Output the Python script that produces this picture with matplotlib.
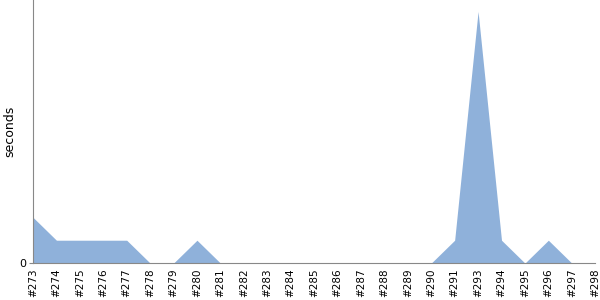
import matplotlib
matplotlib.use("Agg")
import matplotlib.pyplot as plt

builds = ["#273", "#274", "#275", "#276", "#277", "#278", "#279", "#280", "#281",
          "#282", "#283", "#284", "#285", "#286", "#287", "#288", "#289", "#290",
          "#291", "#293", "#294", "#295", "#296", "#297", "#298"]
seconds = [2, 1, 1, 1, 1, 0, 0, 1, 0,
           0, 0, 0, 0, 0, 0, 0, 0, 0,
           1, 11, 1, 0, 1, 0, 0]

fig = plt.figure(figsize=(6, 3), dpi=100)
ax = fig.add_axes([0.055, 0.123, 0.937, 0.877])
x = list(range(len(builds)))
ax.fill_between(x, seconds, 0, color="#8fb1da", linewidth=0)
ax.set_xlim(0, len(builds) - 1)
ax.set_ylim(0, 11.5)
ax.set_xticks(x)
ax.set_xticklabels(builds, rotation=90, fontsize=7.5)
ax.set_yticks([0])
ax.set_yticklabels(["0"], fontsize=8)
ax.tick_params(axis="x", length=0, pad=4)
ax.tick_params(axis="y", length=3, color="#888888", pad=2)
for s in ("top", "right"):
    ax.spines[s].set_visible(False)
for s in ("left", "bottom"):
    ax.spines[s].set_color("#888888")
ax.set_ylabel("seconds", fontsize=9)
ax.yaxis.set_label_coords(-0.03, 0.5)
fig.savefig("out.png", dpi=100)
